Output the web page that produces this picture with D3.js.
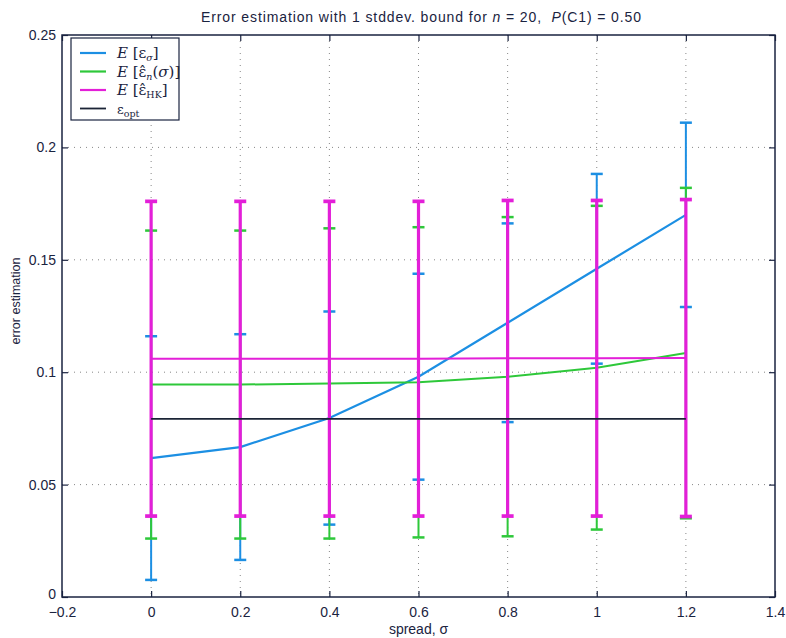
<!DOCTYPE html>
<html>
<head>
<meta charset="utf-8">
<script src="https://cdn.jsdelivr.net/npm/d3@7"></script>
<style>
  body { margin: 0; background: #fff; }
  svg { display: block; }
  .tick text { font-family: "Liberation Sans", Arial, sans-serif; font-size: 14px; fill: #1a2340; }
  .lbl { font-family: "Liberation Sans", Arial, sans-serif; font-size: 14px; fill: #1a2340; }
</style>
</head>
<body>
<svg id="chart" width="786" height="638"></svg>
<script>
"use strict";

// spread values (x)
var sigma = [0, 0.2, 0.4, 0.6, 0.8, 1.0, 1.2];

// E[eps_sigma] mean and 1-stddev
var blueMean = [0.0618, 0.0667, 0.0796, 0.0980, 0.1220, 0.1460, 0.1700];
var blueStd  = [0.0542, 0.0502, 0.0474, 0.0458, 0.0442, 0.0422, 0.0410];

// E[eps_n(sigma)]
var greenMean = [0.0945, 0.0945, 0.0950, 0.0955, 0.0980, 0.1020, 0.1085];
var greenStd  = [0.0685, 0.0685, 0.0690, 0.0690, 0.0710, 0.0720, 0.0735];

// E[eps_HK]
var magMean = [0.1060, 0.1060, 0.1060, 0.1060, 0.1062, 0.1062, 0.1063];
var magStd  = [0.0700, 0.0700, 0.0700, 0.0700, 0.0702, 0.0702, 0.0705];

// eps_opt
var optVal = [0.0792, 0.0792, 0.0792, 0.0792, 0.0792, 0.0792, 0.0792];

var xTicks = [-0.2, 0, 0.2, 0.4, 0.6, 0.8, 1, 1.2, 1.4];
var yTicks = [0, 0.05, 0.1, 0.15, 0.2, 0.25];

var svg = d3.select("#chart");
var margin = { left: 62, right: 11, top: 35, bottom: 41 };
var width = 786 - margin.left - margin.right;
var height = 638 - margin.top - margin.bottom;

var x = d3.scaleLinear().domain([-0.2, 1.4]).range([0, width]);
var y = d3.scaleLinear().domain([0, 0.25]).range([height, 0]);

var g = svg.append("g").attr("transform", "translate(" + margin.left + "," + margin.top + ")");

// grid
g.append("g").selectAll("line.gx")
    .data(xTicks.slice(1, -1))
  .enter().append("line")
    .attr("x1", function (d) { return x(d); })
    .attr("x2", function (d) { return x(d); })
    .attr("y1", 0).attr("y2", height)
    .style("stroke", "#555").style("stroke-width", 1)
    .style("stroke-dasharray", "1,5").style("opacity", 0.7);

g.append("g").selectAll("line.gy")
    .data(yTicks.slice(1, -1))
  .enter().append("line")
    .attr("y1", function (d) { return y(d); })
    .attr("y2", function (d) { return y(d); })
    .attr("x1", 0).attr("x2", width)
    .style("stroke", "#555").style("stroke-width", 1)
    .style("stroke-dasharray", "1,5").style("opacity", 0.7);

// series
var series = [
    { mean: blueMean, std: blueStd, color: "#1c8fe3", lw: 2.2, cw: 2, cap: 6 },
    { mean: greenMean, std: greenStd, color: "#2ec83a", lw: 2, cw: 2, cap: 6 },
    { mean: magMean, std: magStd, color: "#e31fd8", lw: 2, cw: 3.2, cap: 6 }
];

var line = d3.line()
    .x(function (d, i) { return x(sigma[i]); })
    .y(function (d) { return y(d); });

series.forEach(function (s) {
    var eb = g.append("g");
    sigma.forEach(function (sv, i) {
        var lo = s.mean[i] - s.std[i], hi = s.mean[i] + s.std[i];
        eb.append("line")
            .attr("x1", x(sv)).attr("x2", x(sv))
            .attr("y1", y(lo)).attr("y2", y(hi))
            .style("stroke", s.color).style("stroke-width", s.cw);
        [lo, hi].forEach(function (v) {
            eb.append("line")
                .attr("x1", x(sv) - s.cap).attr("x2", x(sv) + s.cap)
                .attr("y1", y(v)).attr("y2", y(v))
                .style("stroke", s.color).style("stroke-width", s.cw + 0.5);
        });
    });
    g.append("path")
        .datum(s.mean)
        .attr("d", line)
        .style("fill", "none").style("stroke", s.color).style("stroke-width", s.lw);
});

g.append("path")
    .datum(optVal)
    .attr("d", line)
    .style("fill", "none").style("stroke", "#1b2436").style("stroke-width", 1.8);

// axes (ticks inside, box on all sides)
var axisColor = "#1a2340";
function styleAxis(sel) {
    sel.select(".domain").remove();
    sel.selectAll(".tick line").style("stroke", axisColor).style("stroke-width", 1.2);
}

g.append("g").attr("transform", "translate(0," + height + ")")
    .call(d3.axisBottom(x).tickValues(xTicks).tickSizeInner(-6).tickPadding(10)
        .tickFormat(function (d) { return d === 0 ? "0" : String(d).replace("-", "\u2212"); }))
    .call(styleAxis);

g.append("g")
    .call(d3.axisTop(x).tickValues(xTicks).tickSizeInner(-6).tickFormat(""))
    .call(styleAxis);

g.append("g")
    .call(d3.axisLeft(y).tickValues(yTicks).tickSizeInner(-6).tickPadding(6)
        .tickFormat(function (d) { return String(+d.toFixed(2)); }))
    .call(styleAxis)
    .selectAll(".tick text")
    .filter(function (d) { return d === 0; })
    .attr("dy", "0.1em");

g.append("g").attr("transform", "translate(" + width + ",0)")
    .call(d3.axisRight(y).tickValues(yTicks).tickSizeInner(-6).tickFormat(""))
    .call(styleAxis);

g.append("rect")
    .attr("x", 0).attr("y", 0).attr("width", width).attr("height", height)
    .style("fill", "none").style("stroke", axisColor).style("stroke-width", 1.5);

// title and labels
var title = svg.append("text").attr("class", "lbl")
    .attr("x", 201).attr("y", 22)
    .attr("textLength", 440).attr("lengthAdjust", "spacing");
title.append("tspan").text("Error estimation with 1 stddev. bound for ");
title.append("tspan").style("font-style", "italic").text("n");
title.append("tspan").text(" = 20,\u00a0 ");
title.append("tspan").style("font-style", "italic").text("P");
title.append("tspan").text("(C1) = 0.50");

svg.append("text").attr("class", "lbl")
    .attr("x", margin.left + width / 2).attr("y", 634)
    .attr("text-anchor", "middle").text("spread, \u03c3");

svg.append("text").attr("class", "lbl")
    .attr("transform", "translate(20,301) rotate(-90)")
    .attr("text-anchor", "middle").style("font-size", "12.5px")
    .text("error estimation");

// legend
var leg = svg.append("g").attr("transform", "translate(71,38)");
leg.append("rect").attr("width", 108).attr("height", 82)
    .style("fill", "#fff").style("stroke", axisColor).style("stroke-width", 1.2);

// part: [text, flags] where i = italic, s = subscript
var legItems = [
    { color: "#1c8fe3", parts: [["E", "i"], [" [", ""], ["\u03b5", ""], ["\u03c3", "si"], ["]", ""]] },
    { color: "#2ec83a", parts: [["E", "i"], [" [", ""], ["\u03b5\u0302", ""], ["n", "si"], ["(", ""], ["\u03c3", "i"], [")]", ""]] },
    { color: "#e31fd8", parts: [["E", "i"], [" [", ""], ["\u03b5\u0302", ""], ["HK", "s"], ["]", ""]] },
    { color: "#1b2436", parts: [["\u03b5", ""], ["opt", "s"]] }
];

legItems.forEach(function (it, i) {
    var yy = 15 + i * 18.5;
    leg.append("line").attr("x1", 9).attr("x2", 35).attr("y1", yy).attr("y2", yy)
        .style("stroke", it.color).style("stroke-width", i === 3 ? 1.8 : 2.2);
    var t = leg.append("text").attr("x", 46).attr("y", yy + 5)
        .style("font-family", "'DejaVu Serif', 'Liberation Serif', serif")
        .style("font-size", i === 3 ? "13px" : "15px").style("fill", "#1a2340");
    var down = false;
    it.parts.forEach(function (p) {
        var ts = t.append("tspan").text(p[0]);
        var sub = p[1].indexOf("s") >= 0;
        if (p[1].indexOf("i") >= 0) ts.style("font-style", "italic");
        if (sub) ts.style("font-size", "9.5px");
        if (sub && !down) { ts.attr("dy", 3); down = true; }
        else if (!sub && down) { ts.attr("dy", -3); down = false; }
    });
});
</script>
</body>
</html>
